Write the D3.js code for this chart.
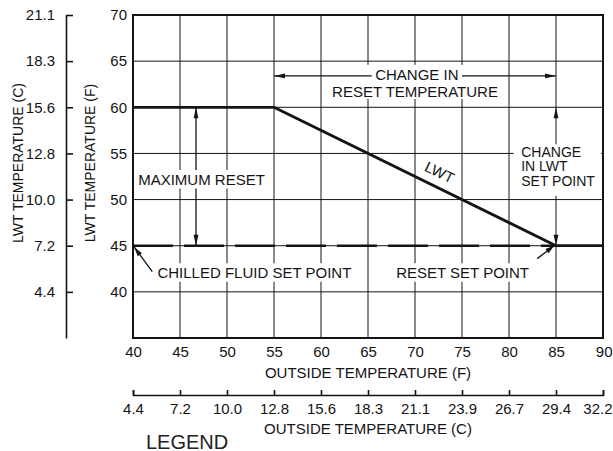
<!DOCTYPE html>
<html>
<head>
<meta charset="utf-8">
<script src="https://cdn.jsdelivr.net/npm/d3@7/dist/d3.min.js"></script>
<style>
  html, body { margin: 0; padding: 0; background: #ffffff; }
  svg { display: block; font-family: "Liberation Sans", Arial, Helvetica, sans-serif; }
</style>
</head>
<body>
<svg id="chart" width="613" height="451"></svg>
<script>
// Outside air temperature ticks (F) and the matching Celsius labels
const outsideTicksF = [40, 45, 50, 55, 60, 65, 70, 75, 80, 85, 90];
const outsideLabelsC = ["4.4", "7.2", "10.0", "12.8", "15.6", "18.3", "21.1", "23.9", "26.7", "29.4", "32.2"];

// Leaving water temperature ticks (F) and the matching Celsius labels
const lwtTicksF = [40, 45, 50, 55, 60, 65, 70];
const lwtLabelsC = ["4.4", "7.2", "10.0", "12.8", "15.6", "18.3", "21.1"];

// LWT reset schedule vs outside temperature
const resetOutsideF = [40, 55, 85, 90];
const resetLwtF = [60, 60, 45, 45];

// Chilled fluid set point (dashed)
const setPointOutsideF = [40, 85];
const setPointLwtF = [45, 45];

const ink = "#141414";
const svg = d3.select("#chart");

const x = d3.scaleLinear().domain([40, 90]).range([133, 603]);
const y = d3.scaleLinear().domain([35, 70]).range([338, 15]);

// ---- grid ----
const grid = svg.append("g").attr("stroke", ink).attr("stroke-width", 1);
grid.selectAll("line.v").data(outsideTicksF.slice(1, -1)).join("line")
  .attr("x1", d => x(d)).attr("x2", d => x(d))
  .attr("y1", y(70)).attr("y2", y(35));
grid.selectAll("line.h").data(lwtTicksF.slice(0, -1)).join("line")
  .attr("x1", x(40)).attr("x2", x(90))
  .attr("y1", d => y(d)).attr("y2", d => y(d));

// Maximum reset dimension line (broken by its label)
svg.append("line")
  .attr("x1", x(46.7)).attr("x2", x(46.7))
  .attr("y1", y(60)).attr("y2", y(45))
  .attr("stroke", ink).attr("stroke-width", 1.3);

// ---- label backgrounds that interrupt the grid ----
const boxes = [
  { x0: 61.1, x1: 79.0, y0: 64.6, y1: 60.9 },   // change in reset temperature
  { x0: 40.3, x1: 54.3, y0: 53.2, y1: 51.2 },   // maximum reset
  { x0: 80.5, x1: 89.8, y0: 56.0, y1: 50.4 },   // change in LWT set point
  { x0: 42.2, x1: 64.2, y0: 43.1, y1: 41.1 },   // chilled fluid set point
  { x0: 67.5, x1: 82.5, y0: 43.1, y1: 41.1 }    // reset set point
];
svg.append("g").selectAll("rect").data(boxes).join("rect")
  .attr("x", d => x(d.x0)).attr("y", d => y(d.y0))
  .attr("width", d => x(d.x1) - x(d.x0))
  .attr("height", d => y(d.y1) - y(d.y0))
  .attr("fill", "#ffffff");

// ---- plot frame ----
svg.append("rect")
  .attr("x", x(40)).attr("y", y(70))
  .attr("width", x(90) - x(40)).attr("height", y(35) - y(70))
  .attr("fill", "none").attr("stroke", ink).attr("stroke-width", 2);

// ---- data lines ----
const line = d3.line().x(d => x(d[0])).y(d => y(d[1]));
svg.append("path")
  .datum(d3.zip(setPointOutsideF, setPointLwtF))
  .attr("d", line)
  .attr("fill", "none").attr("stroke", ink).attr("stroke-width", 2.6)
  .attr("stroke-dasharray", "40 11");
svg.append("path")
  .datum(d3.zip(resetOutsideF, resetLwtF))
  .attr("d", line)
  .attr("fill", "none").attr("stroke", ink).attr("stroke-width", 2.8)
  .attr("stroke-linejoin", "round");

// ---- arrows ----
function arrowHead(tx, ty, fx, fy, len = 10, half = 2.6) {
  const a = Math.atan2(ty - fy, tx - fx);
  const bx = tx - len * Math.cos(a), by = ty - len * Math.sin(a);
  const px = -Math.sin(a) * half, py = Math.cos(a) * half;
  svg.append("path")
    .attr("d", `M${tx},${ty}L${bx + px},${by + py}L${bx - px},${by - py}Z`)
    .attr("fill", ink);
}
function arrowLine(x1, y1, x2, y2, w = 1.3) {
  svg.append("line").attr("x1", x1).attr("y1", y1).attr("x2", x2).attr("y2", y2)
    .attr("stroke", ink).attr("stroke-width", w);
}

// change in reset temperature: 55 F -> 85 F
arrowLine(x(55), y(63.4), x(65.4), y(63.4));
arrowLine(x(75.0), y(63.4), x(85), y(63.4));
arrowHead(x(55), y(63.4), x(60), y(63.4), 11, 2.4);
arrowHead(x(85), y(63.4), x(80), y(63.4), 11, 2.4);

// maximum reset: 45 F -> 60 F
arrowHead(x(46.7), y(60), x(46.7), y(55), 11, 2.4);
arrowHead(x(46.7), y(45), x(46.7), y(50), 11, 2.4);

// change in LWT set point, on the 85 F grid line
arrowHead(x(85), y(60), x(85), y(55), 11, 2.4);
arrowHead(x(85), y(45), x(85), y(50), 11, 2.4);

// chilled fluid set point pointer
arrowLine(x(42.05), y(42.2), x(40.1), y(44.9));
arrowHead(x(40.1), y(44.9), x(42.05), y(42.2), 10, 2.6);

// reset set point pointer
arrowLine(x(83.0), y(43.6), x(84.8), y(45.0));
arrowHead(x(84.8), y(45.0), x(83.0), y(43.6), 9, 2.6);

// ---- annotation text ----
const note = svg.append("g").attr("fill", ink).attr("font-size", 15);
note.append("text").attr("x", x(70.2)).attr("y", y(63.5)).attr("dy", "0.36em")
  .attr("text-anchor", "middle").text("CHANGE IN");
note.append("text").attr("x", x(70.0)).attr("y", y(61.7)).attr("dy", "0.36em")
  .attr("text-anchor", "middle").text("RESET TEMPERATURE");
note.append("text").attr("x", x(40.55)).attr("y", y(52.2)).attr("dy", "0.36em")
  .text("MAXIMUM RESET");
const lwtNote = note.append("text").attr("font-size", 14).attr("y", y(55.2));
["CHANGE", "IN LWT", "SET POINT"].forEach((t, i) =>
  lwtNote.append("tspan").attr("x", x(81.3)).attr("dy", i === 0 ? "0.36em" : "1.05em").text(t));
note.append("text").attr("x", x(42.6)).attr("y", y(42.1)).attr("dy", "0.36em")
  .text("CHILLED FLUID SET POINT");
note.append("text").attr("x", x(68.0)).attr("y", y(42.1)).attr("dy", "0.36em")
  .text("RESET SET POINT");

// LWT label riding just above the sloped reset line
const slope = Math.atan2(y(45) - y(60), x(85) - x(55)) * 180 / Math.PI;
note.append("text")
  .attr("transform", `translate(${x(72.1)},${y(51.9)}) rotate(${slope}) translate(0,-11)`)
  .attr("text-anchor", "middle").attr("dy", "0.36em")
  .attr("font-size", 15)
  .text("LWT");

// ---- axes ----
function styleAxis(g, fs) {
  g.attr("font-family", null).attr("font-size", fs);
  g.selectAll("path, line").attr("stroke", ink).attr("stroke-width", 1.6);
  g.selectAll("text").attr("fill", ink);
}

// LWT (F)
svg.append("g").attr("transform", `translate(${x(40)},0)`)
  .call(d3.axisLeft(y).tickValues(lwtTicksF).tickFormat(d3.format("d")).tickSize(0).tickPadding(6))
  .call(g => { styleAxis(g, 15); g.select(".domain").remove(); });

// LWT (C), drawn on the same scale
svg.append("g").attr("transform", "translate(66,0)")
  .call(d3.axisLeft(y).tickValues(lwtTicksF)
    .tickFormat((d, i) => lwtLabelsC[i])
    .tickSizeInner(-7).tickSizeOuter(0).tickPadding(11))
  .call(g => styleAxis(g, 15));

// Outside temperature (F)
svg.append("g").attr("transform", `translate(0,${y(35)})`)
  .call(d3.axisBottom(x).tickValues(outsideTicksF).tickFormat(d3.format("d")).tickSize(0).tickPadding(8))
  .call(g => {
    styleAxis(g, 15); g.select(".domain").remove();
    g.selectAll(".tick:last-of-type text").attr("text-anchor", "end").attr("x", 9);
  });

// Outside temperature (C)
svg.append("g").attr("transform", "translate(0,395)")
  .call(d3.axisBottom(x).tickValues(outsideTicksF)
    .tickFormat((d, i) => outsideLabelsC[i])
    .tickSizeInner(-5).tickSizeOuter(-5).tickPadding(8))
  .call(g => {
    styleAxis(g, 15);
    g.selectAll(".tick:last-of-type text").attr("text-anchor", "end").attr("x", 9);
  });

// ---- axis titles ----
const titles = svg.append("g").attr("fill", ink);
titles.append("text").attr("x", x(65)).attr("y", 373).attr("dy", "0.36em")
  .attr("text-anchor", "middle").attr("font-size", 15).text("OUTSIDE TEMPERATURE (F)");
titles.append("text").attr("x", x(65)).attr("y", 429).attr("dy", "0.36em")
  .attr("text-anchor", "middle").attr("font-size", 15).text("OUTSIDE TEMPERATURE (C)");
titles.append("text").attr("transform", "translate(18,163) rotate(-90)").attr("dy", "0.36em")
  .attr("text-anchor", "middle").attr("font-size", 14).text("LWT TEMPERATURE (C)");
titles.append("text").attr("transform", "translate(90,163) rotate(-90)").attr("dy", "0.36em")
  .attr("text-anchor", "middle").attr("font-size", 14).text("LWT TEMPERATURE (F)");

titles.append("text").attr("x", 146).attr("y", 449)
  .attr("font-size", 20).attr("fill", "#222").text("LEGEND");
</script>
</body>
</html>
